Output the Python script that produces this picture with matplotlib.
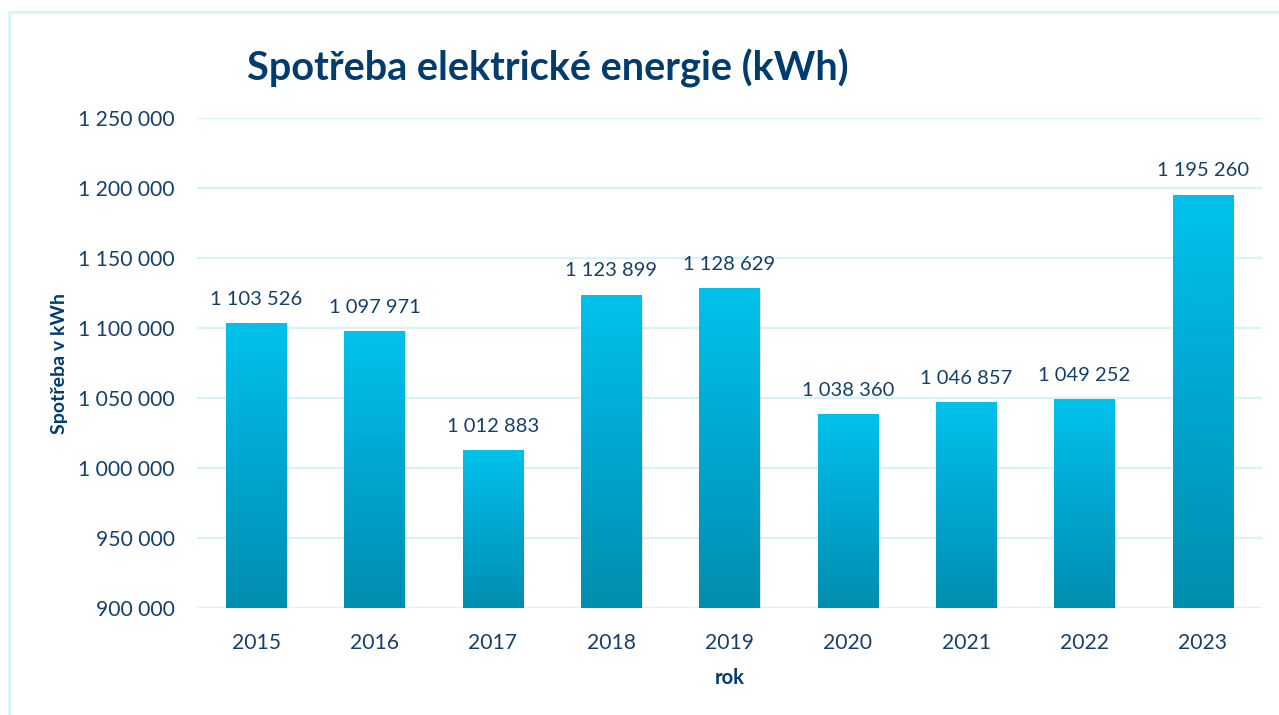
import matplotlib
matplotlib.use("Agg")
import matplotlib.pyplot as plt
import numpy as np
from matplotlib.colors import LinearSegmentedColormap
from matplotlib.ticker import FuncFormatter, MultipleLocator
from matplotlib.patches import Rectangle

years = ["2015", "2016", "2017", "2018", "2019", "2020", "2021", "2022", "2023"]
consumption = [1103526, 1097971, 1012883, 1123899, 1128629, 1038360, 1046857, 1049252, 1195260]
title = "Spotřeba elektrické energie (kWh)"
ylabel = "Spotřeba v kWh"
xlabel = "rok"

plt.rcParams['font.family'] = ['Lato', 'DejaVu Sans']
text_color = "#14406B"
title_color = "#003C6E"
grid_color = "#D6F3FA"

fig = plt.figure(figsize=(12.79, 7.15), dpi=100)
W, H = 1279, 715
ax = fig.add_axes([197 / W, 1 - 608 / H, (1262 - 197) / W, (608 - 118) / H])

# outer frame
fig.patches.append(Rectangle((9 / W, -0.05), 1.2, 1 - 12 / H + 0.05, transform=fig.transFigure,
                             fill=False, edgecolor="#D2F4FC", linewidth=2))

x = np.arange(len(years))
ymin = 900000
bars = ax.bar(x, np.array(consumption) - ymin, bottom=ymin, width=0.51, color="none",
              edgecolor="none", zorder=3)

cmap = LinearSegmentedColormap.from_list("g", ["#008EAF", "#00A6CF", "#00C2EC"])
grad = np.linspace(0, 1, 256).reshape(-1, 1)
for b in bars:
    x0, y0 = b.get_x(), b.get_y()
    w, h = b.get_width(), b.get_height()
    sh = Rectangle((x0 + 0.012, y0 - 1500), w, h, facecolor="#000000", alpha=0.12,
                   edgecolor="none", zorder=2)
    ax.add_patch(sh)
    im = ax.imshow(grad, extent=[x0, x0 + w, y0, y0 + h], origin="lower", cmap=cmap,
                   aspect="auto", zorder=3.5)
    im.set_clip_path(b)

fmt = lambda v: f"{int(round(v)):,}".replace(",", " ")
for xi, v in zip(x, consumption):
    ax.annotate(fmt(v), (xi, v), xytext=(0, 11), textcoords="offset points",
                ha="center", va="bottom", fontsize=14.5, color=text_color, zorder=5)

ax.set_xlim(-0.5, len(years) - 0.5)
ax.set_ylim(900000, 1250000)
ax.yaxis.set_major_locator(MultipleLocator(50000))
ax.yaxis.set_major_formatter(FuncFormatter(lambda v, p: fmt(v)))
ax.set_xticks(x)
ax.set_xticklabels(years)
ax.tick_params(axis="both", length=0, labelsize=15.2, labelcolor=text_color)
ax.tick_params(axis="y", pad=16)
ax.tick_params(axis="x", pad=18)
ax.grid(axis="y", color=grid_color, linewidth=1.6, zorder=0)
ax.set_axisbelow(True)
for s in ax.spines.values():
    s.set_visible(False)

ax.set_ylabel(ylabel, fontsize=14, fontweight="bold", color=title_color, labelpad=7)
ax.set_xlabel(xlabel, fontsize=14.5, fontweight="bold", color=title_color, labelpad=11)
fig.text(548 / W, 1 - 68 / H, title, ha="center", va="center", fontsize=28.5,
         fontweight="bold", color=title_color)

fig.savefig("out.png", dpi=100)
